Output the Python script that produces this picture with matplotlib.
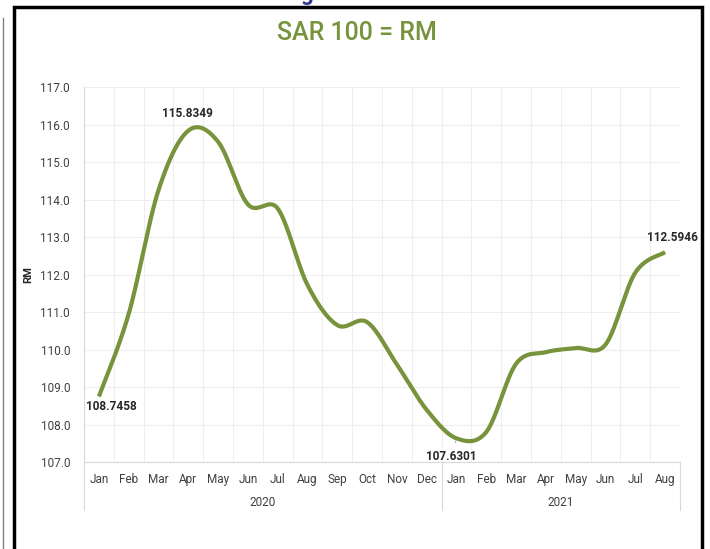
import matplotlib
matplotlib.use('Agg')
import matplotlib.pyplot as plt
import numpy as np
from matplotlib.patches import Rectangle
from matplotlib.lines import Line2D
import matplotlib.transforms as mtransforms

months = ['Jan', 'Feb', 'Mar', 'Apr', 'May', 'Jun', 'Jul', 'Aug', 'Sep', 'Oct', 'Nov', 'Dec',
          'Jan', 'Feb', 'Mar', 'Apr', 'May', 'Jun', 'Jul', 'Aug']
years = ['2020', '2021']
year_spans = [(0, 11), (12, 19)]
rates = [108.7458, 110.95, 114.25, 115.8349, 115.54, 113.87, 113.76, 111.72, 110.65, 110.73,
         109.6, 108.39, 107.6301, 107.8, 109.62, 109.93, 110.04, 110.13, 112.05, 112.5946]
# which points get a value label, and where (pixel offsets from the point)
labelled = {0: (12, -10), 3: (-1, 17), 12: (-5, -18), 19: (7, 15)}

green = '#77933C'
plt.rcParams['font.family'] = ['Roboto', 'DejaVu Sans']

AX_W, AX_H = 596, 375


def smooth(xs, ys, sx, sy, n=30):
    # bezier smoothing like excel: 1/6 tangents, capped at half the segment length (in pixels)
    P = np.column_stack([xs * sx, ys * sy])
    P = np.vstack([P[0], P, P[-1]])
    t = np.linspace(0, 1, n)[:, None]
    out = []
    for i in range(1, len(P) - 2):
        p0, p1, p2, p3 = P[i - 1], P[i], P[i + 1], P[i + 2]
        d12 = np.hypot(*(p2 - p1))
        v1 = (p2 - p0) / 6
        v2 = (p3 - p1) / 6
        for v in (v1, v2):
            L = np.hypot(*v)
            if L > d12 / 2 and L > 0:
                v *= (d12 / 2) / L
        c1 = p1 + v1
        c2 = p2 - v2
        pts = (1 - t) ** 3 * p1 + 3 * (1 - t) ** 2 * t * c1 + 3 * (1 - t) * t ** 2 * c2 + t ** 3 * p2
        out.append(pts)
    out = np.vstack(out)
    return out[:, 0] / sx, out[:, 1] / sy


fig = plt.figure(figsize=(7.1, 5.49), dpi=100)
ax = fig.add_axes([84 / 710, 1 - 462 / 549, AX_W / 710, AX_H / 549])

x = np.arange(len(rates))
cx, cy = smooth(x.astype(float), np.array(rates), AX_W / len(rates), AX_H / 10)
ax.plot(cx, cy, color=green, lw=3.0, solid_capstyle='butt', zorder=3)

ax.set_xlim(-0.5, len(rates) - 0.5)
ax.set_ylim(107, 117)
yt = np.arange(107, 117.5, 1)
ax.set_yticks(yt)
ax.set_yticklabels([f'{v:.1f}' for v in yt], fontsize=8.5, color='#404040')
ax.set_xticks(x)
ax.set_xticklabels(months, fontsize=8.5, color='#404040')
ax.tick_params(axis='y', length=0, pad=10)
ax.tick_params(axis='x', length=0, pad=8)
ax.set_xticks(np.arange(-0.5, len(rates), 1), minor=True)
ax.grid(True, which='minor', axis='x', color='#EEEEEE', lw=0.8)
ax.grid(True, which='major', axis='y', color='#EEEEEE', lw=0.8)
ax.tick_params(which='minor', length=0)
for s in ['top', 'right']:
    ax.spines[s].set_visible(False)
ax.spines['left'].set_color('#D9D9D9')
ax.spines['bottom'].set_color('#D9D9D9')
ax.set_axisbelow(True)
ax.set_ylabel('RM', fontsize=8, fontweight='bold', color='#262626')
ax.yaxis.set_label_coords(-51 / AX_W, 0.5)

# year row under the months
trans = mtransforms.blended_transform_factory(ax.transData, ax.transAxes)
for xs_ in [-0.5, 11.5, len(rates) - 0.5]:
    ax.add_line(Line2D([xs_, xs_], [0, -48 / AX_H], transform=trans, color='#D9D9D9',
                       lw=0.8, clip_on=False))
for yr, (a, b) in zip(years, year_spans):
    ax.text((a + b) / 2, -40 / AX_H, yr, transform=trans, ha='center', va='center',
            fontsize=8.5, color='#404040')

# data labels
for i, off in labelled.items():
    arrow = None
    if i == 12:
        arrow = dict(arrowstyle='-', color='#A6A6A6', lw=0.8, shrinkA=3.5, shrinkB=2)
    ax.annotate(f'{rates[i]:.4f}', (i, rates[i]), xytext=off, textcoords='offset pixels',
                ha='center', va='center', fontsize=8.5, fontweight='bold', color='#262626',
                arrowprops=arrow)

fig.text(357 / 710, 1 - 33 / 549, 'SAR 100 = RM', ha='center', va='center', fontsize=18,
         fontweight='medium', color=green)

# frame around the chart and bits of the page
fig.patches.append(Rectangle((14 / 710, -0.05), 688 / 710, 1.05 - 7 / 549, transform=fig.transFigure,
                             fill=False, edgecolor='black', lw=2.5))
fig.add_artist(Line2D([2.5 / 710, 2.5 / 710], [0, 1 - 18 / 549], transform=fig.transFigure,
                      color='#808080', lw=1))
fig.text(307 / 710, 1 + 6 / 549, 'g', ha='center', va='center', fontsize=16, fontweight='bold',
         color='#2E3A8C')

fig.savefig('out.png', dpi=100)
